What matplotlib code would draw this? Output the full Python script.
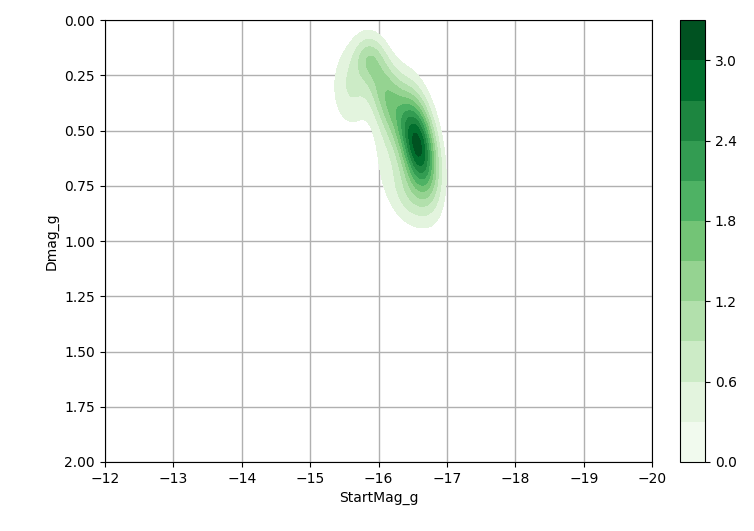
import numpy as np
import matplotlib
matplotlib.use('Agg')
import matplotlib.pyplot as plt
from matplotlib.colors import Normalize
from matplotlib.cm import ScalarMappable

# density of (StartMag_g, Dmag_g), described as a few correlated gaussian lumps
comp_x = [-16.58, -16.12, -15.60, -16.40, -15.85, -16.12]
comp_y = [0.57, 0.34, 0.30, 0.80, 0.17, 0.60]
comp_sx = [0.19, 0.20, 0.20, 0.20, 0.15, 0.20]
comp_sy = [0.16, 0.14, 0.13, 0.10, 0.07, 0.14]
comp_rho = [-0.40, -0.50, 0.0, -0.30, 0.0, 0.0]
comp_w = [0.53, 0.20, 0.10, 0.06, 0.04, 0.05]

levels = np.round(np.arange(0, 3.31, 0.3), 2)
cbar_ticks = [0.0, 0.6, 1.2, 1.8, 2.4, 3.0]
x_ticks = list(range(-12, -21, -1))
y_ticks = [0.0, 0.25, 0.5, 0.75, 1.0, 1.25, 1.5, 1.75, 2.0]


def density(X, Y):
    Z = np.zeros_like(X)
    for mx, my, sx, sy, r, w in zip(comp_x, comp_y, comp_sx, comp_sy, comp_rho, comp_w):
        dx = (X - mx) / sx
        dy = (Y - my) / sy
        q = (dx**2 - 2 * r * dx * dy + dy**2) / (1 - r**2)
        Z += w * np.exp(-0.5 * q) / (2 * np.pi * sx * sy * np.sqrt(1 - r**2))
    return Z


xx = np.linspace(-20, -12, 500)
yy = np.linspace(0, 2, 400)
X, Y = np.meshgrid(xx, yy)
Z = density(X, Y)

fig = plt.figure(figsize=(7.54, 5.31), dpi=100)
ax = fig.add_axes([0.139, 0.130, 0.726, 0.832])
cax = fig.add_axes([0.902, 0.130, 0.033, 0.832])

norm = Normalize(vmin=levels[0], vmax=levels[-1])
# lowest band left unshaded
ax.contourf(X, Y, Z, levels=levels[1:], cmap='Greens', norm=norm, zorder=2)

ax.set_xlim(-12, -20)
ax.set_ylim(2, 0)
ax.set_xticks(x_ticks)
ax.set_yticks(y_ticks)
ax.set_yticklabels(['%.2f' % v for v in y_ticks])
ax.grid(True, color='#b0b0b0', linewidth=1, zorder=1)
ax.set_axisbelow(True)
ax.set_xlabel('StartMag_g')
ax.set_ylabel('Dmag_g')

mids = 0.5 * (levels[:-1] + levels[1:])
sm = ScalarMappable(norm=norm, cmap='Greens')
cb = fig.colorbar(sm, cax=cax, boundaries=levels, values=mids)
cb.set_ticks(cbar_ticks)
cb.set_ticklabels(['%.1f' % v for v in cbar_ticks])

fig.savefig('out.png', dpi=100)
